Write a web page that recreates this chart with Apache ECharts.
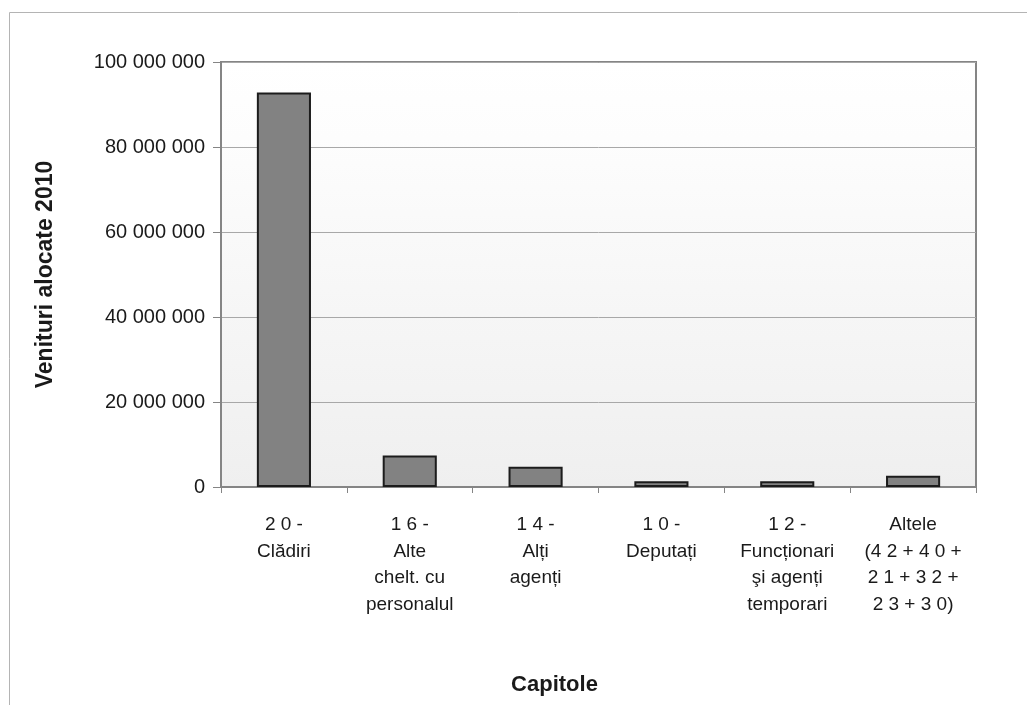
<!DOCTYPE html>
<html>
<head>
<meta charset="utf-8">
<script src="https://cdn.jsdelivr.net/npm/echarts@6/dist/echarts.min.js"></script>
<style>
html,body{margin:0;padding:0;background:#fff;}
#chart{width:1027px;height:705px;}
</style>
</head>
<body>
<div id="chart"></div>
<script>
const categories = [
  "2 0 -\nClădiri",
  "1 6 -\nAlte\nchelt. cu\npersonalul",
  "1 4 -\nAlți\nagenți",
  "1 0 -\nDeputați",
  "1 2 -\nFuncționari\nşi agenți\ntemporari",
  "Altele\n(4 2 + 4 0 +\n2 1 + 3 2 +\n2 3 + 3 0)"
];
const values = [92800000, 7400000, 4750000, 1350000, 1350000, 2650000];
const yTicks = [0, 20000000, 40000000, 60000000, 80000000, 100000000];
const yAxisTitle = "Venituri alocate 2010";
const xAxisTitle = "Capitole";

const fmt = v => String(v).replace(/\B(?=(\d{3})+(?!\d))/g, " ");
const FONT = '"Liberation Sans", Arial, Helvetica, sans-serif';

const chart = echarts.init(document.getElementById('chart'), null, {renderer: 'canvas'});
chart.setOption({
  animation: false,
  backgroundColor: '#ffffff',
  textStyle: {fontFamily: FONT},
  graphic: [
    {type: 'line', silent: true, shape: {x1: 9.5, y1: 12.5, x2: 1027, y2: 12.5}, style: {stroke: '#b4b4b4', lineWidth: 1}},
    {type: 'line', silent: true, shape: {x1: 9.5, y1: 12.5, x2: 9.5, y2: 705}, style: {stroke: '#b4b4b4', lineWidth: 1}}
  ],
  grid: {
    left: 221, right: 51, top: 62, bottom: 218,
    show: true,
    borderColor: '#858585',
    borderWidth: 2,
    backgroundColor: {
      type: 'linear', x: 0, y: 0, x2: 0, y2: 1,
      colorStops: [
        {offset: 0, color: '#ffffff'},
        {offset: 0.18, color: '#fdfdfd'},
        {offset: 1, color: '#efefef'}
      ]
    }
  },
  xAxis: {
    type: 'category',
    data: categories,
    name: xAxisTitle,
    nameLocation: 'middle',
    nameGap: 187,
    nameTextStyle: {fontSize: 22, fontWeight: 'bold', color: '#1a1a1a', fontFamily: FONT, padding: [0, 88, 0, 0]},
    axisLine: {show: true, lineStyle: {color: '#858585', width: 2}},
    axisTick: {show: true, alignWithLabel: false, length: 6, lineStyle: {color: '#858585', width: 1}},
    axisLabel: {
      interval: 0,
      margin: 25,
      fontSize: 19,
      lineHeight: 26.5,
      color: '#1a1a1a',
      align: 'center',
      verticalAlign: 'top'
    },
    splitLine: {show: false}
  },
  yAxis: {
    type: 'value',
    min: 0, max: 100000000, interval: 20000000,
    name: yAxisTitle,
    nameLocation: 'middle',
    nameGap: 164,
    nameRotate: 90,
    nameTextStyle: {fontSize: 23, fontWeight: 'bold', color: '#1a1a1a', fontFamily: FONT},
    axisLine: {show: true, lineStyle: {color: '#858585', width: 2}},
    axisTick: {show: true, inside: false, length: 8, lineStyle: {color: '#858585', width: 1}},
    axisLabel: {
      fontSize: 20,
      margin: 16,
      color: '#1a1a1a',
      formatter: v => yTicks.includes(v) ? fmt(v) : ''
    },
    splitLine: {show: true, lineStyle: {color: '#a8a8a8', width: 1}}
  },
  series: [{
    type: 'bar',
    data: values,
    barWidth: '43%',
    itemStyle: {color: '#828282', borderColor: '#1c1c1c', borderWidth: 2}
  }]
});
</script>
</body>
</html>
